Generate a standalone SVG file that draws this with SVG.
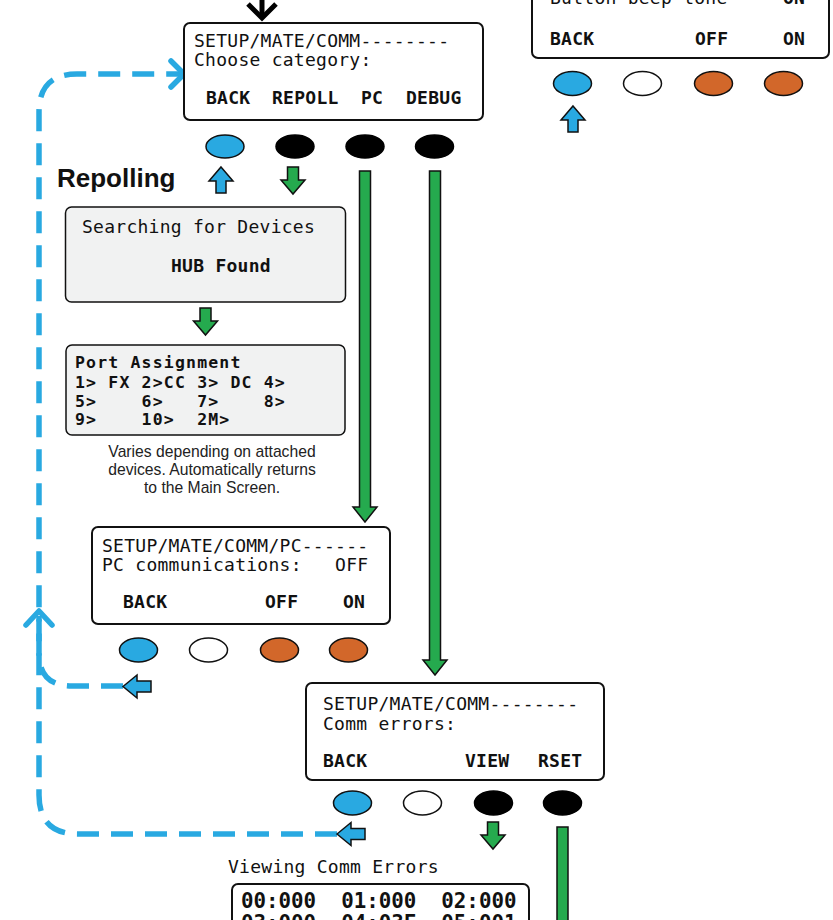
<svg xmlns="http://www.w3.org/2000/svg" xmlns:xlink="http://www.w3.org/1999/xlink" width="833" height="920" viewBox="0 0 833 920">
<style>
.lcd{font-family:"DejaVu Sans Mono","Liberation Mono",monospace;font-size:18px;letter-spacing:0.26px;fill:#111;white-space:pre}
.b{font-weight:bold}
.pt{font-size:16.5px;letter-spacing:1.17px}
.box{fill:#fff;stroke:#111;stroke-width:2}
.gbox{fill:#f1f2f2;stroke:#111;stroke-width:1.5}
.eb{fill:#29a9e1;stroke:#111;stroke-width:1.5}
.ek{fill:#000;stroke:#000;stroke-width:1.5}
.ew{fill:#fff;stroke:#111;stroke-width:1.5}
.eo{fill:#d2672a;stroke:#111;stroke-width:1.5}
.ab{fill:#29a9e1;stroke:#111;stroke-width:1.5;stroke-linejoin:miter}
.ag{fill:#25aa4e;stroke:#111;stroke-width:1.5;stroke-linejoin:miter}
.dash{fill:none;stroke:#29a9e1;stroke-width:5.5;stroke-dasharray:22 12}
.chev{fill:none;stroke:#29a9e1;stroke-width:5.5;stroke-linecap:round;stroke-linejoin:round}
.cap{font-family:"Liberation Sans",Arial,sans-serif;font-size:15.7px;fill:#222;text-anchor:middle}
.title{font-family:"Liberation Sans",Arial,sans-serif;font-size:26px;font-weight:bold;fill:#111}
</style>
<defs>
<path id="up" d="M0 0 L12 14 L5 14 L5 26 L-5 26 L-5 14 L-12 14 Z"/>
<path id="down" d="M-5.5 0 H5.5 V13 H12 L0 27 L-12 13 H-5.5 Z"/>
<path id="left" d="M0 0 L14 -11.5 V-5.5 H28 V5.5 H14 V11.5 Z"/>
</defs>

<g id="connectors">
<path class="dash" d="M337 834 H78 Q39 834 39 795 V112 Q39 74 77 74 H181"/>
<path class="chev" d="M171 61 L184 74 L171 87"/>
<path class="dash" d="M123 686 H72 Q39 686 39 653 V616"/>
<path class="chev" d="M26 625 L39 611 L52 625"/>
<path d="M262 0 V16" stroke="#000" stroke-width="5" fill="none"/>
<path d="M248 4 L262 18 L276 4" stroke="#000" stroke-width="5" fill="none"/>
<use href="#up" x="221" y="167" class="ab"/>
<use href="#down" x="293" y="167" class="ag"/>
<use href="#down" x="205.5" y="308" class="ag"/>
<use href="#up" x="573" y="106" class="ab"/>
<use href="#left" x="123" y="686.5" class="ab"/>
<use href="#left" x="337" y="834" class="ab"/>
<use href="#down" x="493" y="822" class="ag"/>
<path class="ag" d="M359.5 171 H370.5 V507 H377 L365 522 L353 507 H359.5 Z"/>
<path class="ag" d="M429.5 171 H440.5 V660 H447 L435 675 L423 660 H429.5 Z"/>
<rect class="ag" x="557" y="827" width="11" height="110"/>
</g>

<g id="node-beep">
<rect class="box" x="532" y="-40" width="297" height="98" rx="6"/>
<text class="lcd" x="550" y="4">Button beep tone</text>
<text class="lcd b" x="783" y="4">ON</text>
<text class="lcd b" x="550" y="45">BACK</text>
<text class="lcd b" x="695" y="45">OFF</text>
<text class="lcd b" x="783" y="45">ON</text>
<ellipse class="eb" cx="572.5" cy="83.5" rx="19" ry="12"/>
<ellipse class="ew" cx="642.5" cy="83.5" rx="19" ry="12"/>
<ellipse class="eo" cx="713.5" cy="83.5" rx="19" ry="12"/>
<ellipse class="eo" cx="783.5" cy="83.5" rx="19" ry="12"/>
</g>

<g id="node-comm">
<rect class="box" x="184" y="23" width="299" height="97" rx="6"/>
<text class="lcd" x="194" y="47">SETUP/MATE/COMM--------</text>
<text class="lcd" x="194" y="66">Choose category:</text>
<text class="lcd b" x="206" y="104">BACK</text>
<text class="lcd b" x="272" y="104">REPOLL</text>
<text class="lcd b" x="361" y="104">PC</text>
<text class="lcd b" x="406" y="104">DEBUG</text>
<ellipse class="eb" cx="225" cy="146.5" rx="19" ry="11.5"/>
<ellipse class="ek" cx="295" cy="146.5" rx="19" ry="11.5"/>
<ellipse class="ek" cx="365" cy="146.5" rx="19" ry="11.5"/>
<ellipse class="ek" cx="434.5" cy="146.5" rx="19" ry="11.5"/>
</g>

<g id="label-repolling">
<text class="title" x="57" y="187">Repolling</text>
</g>

<g id="node-searching">
<rect class="gbox" x="65.5" y="207" width="280" height="95" rx="6"/>
<text class="lcd" x="82" y="233">Searching for Devices</text>
<text class="lcd b" x="171" y="272">HUB Found</text>
</g>

<g id="node-port">
<rect class="gbox" x="66" y="345" width="279" height="90" rx="6"/>
<text class="lcd b pt" x="75" y="368">Port Assignment</text>
<text class="lcd b pt" x="75" y="388">1&gt; FX 2&gt;CC 3&gt; DC 4&gt;</text>
<text class="lcd b pt" x="75" y="406.5">5&gt;    6&gt;   7&gt;    8&gt;</text>
<text class="lcd b pt" x="75" y="425">9&gt;    10&gt;  2M&gt;</text>
<text class="cap" x="212" y="457">Varies depending on attached</text>
<text class="cap" x="212" y="475">devices. Automatically returns</text>
<text class="cap" x="212" y="493">to the Main Screen.</text>
</g>

<g id="node-pc">
<rect class="box" x="92" y="527" width="298" height="97" rx="6"/>
<text class="lcd" x="102" y="551.5">SETUP/MATE/COMM/PC------</text>
<text class="lcd" x="102" y="570.5">PC communications:   OFF</text>
<text class="lcd b" x="123" y="608">BACK</text>
<text class="lcd b" x="265" y="608">OFF</text>
<text class="lcd b" x="343" y="608">ON</text>
<ellipse class="eb" cx="138.5" cy="650" rx="19" ry="12"/>
<ellipse class="ew" cx="208.5" cy="650" rx="19" ry="12"/>
<ellipse class="eo" cx="279.5" cy="650" rx="19" ry="12"/>
<ellipse class="eo" cx="348.5" cy="650" rx="19" ry="12"/>
</g>

<g id="node-errors">
<rect class="box" x="306" y="683" width="298" height="97" rx="6"/>
<text class="lcd" x="323" y="710">SETUP/MATE/COMM--------</text>
<text class="lcd" x="323" y="730">Comm errors:</text>
<text class="lcd b" x="323" y="767">BACK</text>
<text class="lcd b" x="465" y="767">VIEW</text>
<text class="lcd b" x="538" y="767">RSET</text>
<ellipse class="eb" cx="352.5" cy="803" rx="19" ry="12"/>
<ellipse class="ew" cx="422.5" cy="803" rx="19" ry="12"/>
<ellipse class="ek" cx="493.5" cy="803" rx="19" ry="12"/>
<ellipse class="ek" cx="562.5" cy="803" rx="19" ry="12"/>
</g>

<g id="node-viewing">
<text class="lcd" x="228" y="873">Viewing Comm Errors</text>
<rect class="box" x="232" y="884" width="297" height="90" rx="6"/>
<text class="lcd b" x="241" y="908" style="font-size:20.8px;letter-spacing:0">00:000  01:000  02:000</text>
<text class="lcd b" x="241" y="930" style="font-size:20.8px;letter-spacing:0">03:000  04:03F  05:001</text>
</g>
</svg>
